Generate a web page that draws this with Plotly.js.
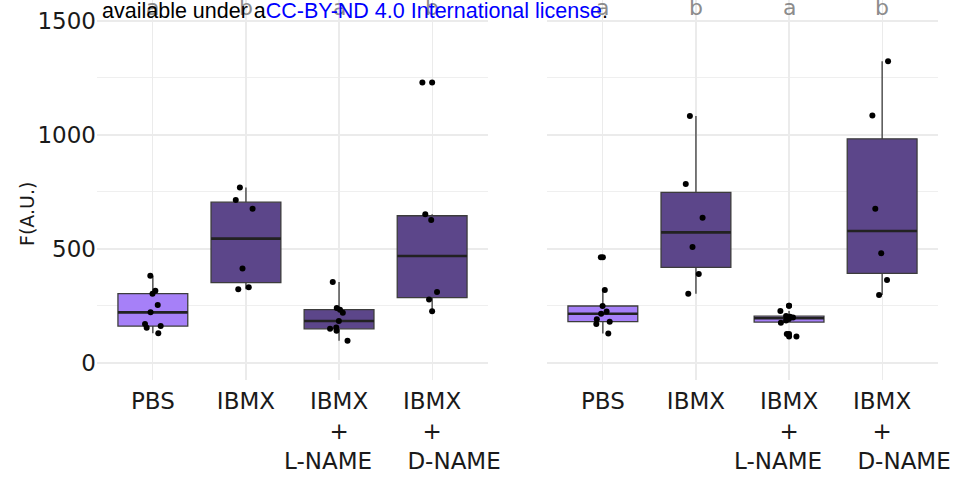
<!DOCTYPE html>
<html>
<head>
<meta charset="utf-8">
<script src="https://cdn.plot.ly/plotly-3.0.1.min.js"></script>
<style>html,body{margin:0;padding:0;background:#fff;}#chart{width:962px;height:484px;}</style>
</head>
<body>
<div id="chart"></div>
<script>
// ---- data ----
const categories = ["PBS", "IBMX", "IBMX + L-NAME", "IBMX + D-NAME"];
const tickLabels = ["PBS", "IBMX", "IBMX<br>+<br>L-NAME\u00a0\u00a0\u00a0", "IBMX<br>+<br>\u00a0\u00a0\u00a0\u00a0\u00a0\u00a0D-NAME"];
const yTicks = [0, 500, 1000, 1500];
const yMinorTicks = [250, 750, 1250];

// left panel
const pbsLeft   = [383, 317, 304, 254, 222, 171, 162, 155, 130];
const ibmxLeft  = [770, 715, 677, 414, 332, 323];
const lnameLeft = [355, 241, 234, 220, 184, 156, 150, 141, 97];
const dnameLeft = [1230, 652, 627, 311, 279, 227];

// right panel
const pbsRight   = [464, 320, 250, 226, 216, 192, 181, 171, 129];
const ibmxRight  = [1083, 785, 637, 509, 390, 304];
const lnameRight = [251, 228, 206, 203, 199, 193, 186, 177, 127, 116];
const dnameRight = [1323, 1085, 677, 481, 364, 298];

const lettersLeft  = ["a", "b", "a", "b"];
const lettersRight = ["a", "b", "a", "b"];

// ---- styles ----
const LIGHT = "#a680f8", DARK = "#5c468a";
const fillsLeft  = [LIGHT, DARK, DARK, DARK];
const fillsRight = [LIGHT, DARK, LIGHT, DARK];
const BOXW = 0.75;

function q7(sorted, p) {
  const h = (sorted.length - 1) * p, lo = Math.floor(h);
  if (lo + 1 >= sorted.length) return sorted[lo];
  return sorted[lo] + (h - lo) * (sorted[lo + 1] - sorted[lo]);
}
function stats(vals) {
  const s = vals.slice().sort((a, b) => a - b);
  const q1 = q7(s, 0.25), med = q7(s, 0.5), q3 = q7(s, 0.75), iqr = q3 - q1;
  const lo = q1 - 1.5 * iqr, hi = q3 + 1.5 * iqr;
  const inside = s.filter(v => v >= lo && v <= hi);
  return {q1, med, q3, lf: Math.min(...inside), uf: Math.max(...inside),
          out: s.filter(v => v < lo || v > hi)};
}

const traces = [];
function panel(groups, fills, xa, ya) {
  const jx = [], jy = [], ox = [], oy = [];
  groups.forEach((vals, i) => {
    const st = stats(vals);
    traces.push({type: "box", x: [categories[i]], q1: [st.q1], median: [st.med], q3: [st.q3],
      lowerfence: [st.lf], upperfence: [st.uf], xaxis: xa, yaxis: ya, width: BOXW,
      fillcolor: fills[i], line: {color: "#3c3c3c", width: 1.3}, whiskerwidth: 0,
      boxpoints: false, hoverinfo: "skip"});
    traces.push({type: "box", x: [categories[i]], q1: [st.med], median: [st.med], q3: [st.med],
      lowerfence: [st.med], upperfence: [st.med], xaxis: xa, yaxis: ya, width: BOXW,
      fillcolor: "rgba(0,0,0,0)", line: {color: "#222222", width: 2.6}, whiskerwidth: 0,
      boxpoints: false, hoverinfo: "skip"});
    vals.forEach(v => { jx.push(categories[i]); jy.push(v); });
    st.out.forEach(v => { ox.push(categories[i]); oy.push(v); });
  });
  traces.push({type: "box", x: jx, y: jy, xaxis: xa, yaxis: ya, width: BOXW, boxpoints: "all", jitter: 0.3,
    pointpos: 0, fillcolor: "rgba(0,0,0,0)", line: {color: "rgba(0,0,0,0)", width: 0},
    whiskerwidth: 0, marker: {color: "#000", size: 6}, hoverinfo: "skip"});
  traces.push({type: "scatter", mode: "markers", x: ox, y: oy, xaxis: xa, yaxis: ya,
    marker: {color: "#000", size: 6}, hoverinfo: "skip"});
}
panel([pbsLeft, ibmxLeft, lnameLeft, dnameLeft], fillsLeft, "x", "y");
panel([pbsRight, ibmxRight, lnameRight, dnameRight], fillsRight, "x2", "y2");

const GRID = "#ebebeb";
function xax(domain, anchor) {
  return {domain, anchor, type: "category", categoryorder: "array", categoryarray: categories,
    range: [-0.6, 3.6], tickvals: categories, ticktext: tickLabels, tickangle: 0,
    showgrid: true, gridcolor: GRID, gridwidth: 1.2, zeroline: false, showline: false,
    ticks: "", ticklabelstandoff: 5,
    tickfont: {family: "DejaVu Sans", size: 23, color: "#1a1a1a"}, fixedrange: true};
}
function yax(anchor, labels) {
  return {anchor, range: [-74.6, 1592], tickvals: yTicks, showticklabels: labels,
    showgrid: true, gridcolor: GRID, gridwidth: 1.2, zeroline: false, showline: false,
    ticks: "", tickfont: {family: "DejaVu Sans", size: 23, color: "#1a1a1a"}, fixedrange: true,
    minor: {tickvals: yMinorTicks, showgrid: true, gridcolor: "#efefef", gridwidth: 1}};
}

const annotations = [];
categories.forEach((c, i) => {
  annotations.push({xref: "x", yref: "y", x: c, y: 1560, text: lettersLeft[i], showarrow: false,
    font: {family: "DejaVu Sans", size: 22, color: "#8c8c8c"}});
  annotations.push({xref: "x2", yref: "y2", x: c, y: 1560, text: lettersRight[i], showarrow: false,
    font: {family: "DejaVu Sans", size: 22, color: "#8c8c8c"}});
});
// y-axis title
annotations.push({xref: "paper", yref: "paper", x: 27 / 962, y: 1 - 214 / 380, textangle: -90,
  xanchor: "center", yanchor: "middle",
  showarrow: false, text: "F(A.U.)", font: {family: "DejaVu Sans", size: 19, color: "#1a1a1a"}});
annotations.push({xref: "paper", yref: "paper", x: 100 / 962, y: 1 - 10.5 / 380, xanchor: "left",
  yanchor: "middle", showarrow: false,
  text: 'available under a<span style="color:#0000ff">CC-BY-ND 4.0 International license</span>.',
  font: {family: "Liberation Sans", size: 21.5, color: "#000"}});

const layout = {
  width: 962, height: 484, margin: {l: 0, r: 0, t: 0, b: 104},
  paper_bgcolor: "#fff", plot_bgcolor: "#fff", showlegend: false,
  boxmode: "overlay", boxgap: 0.25,
  xaxis: xax([97 / 962, 488 / 962], "y"),
  xaxis2: xax([547 / 962, 938 / 962], "y2"),
  yaxis: yax("x", true),
  yaxis2: Object.assign(yax("x2", false), {matches: "y"}),
  annotations
};
Plotly.newPlot("chart", traces, layout, {displayModeBar: false, staticPlot: true});
</script>
</body>
</html>
